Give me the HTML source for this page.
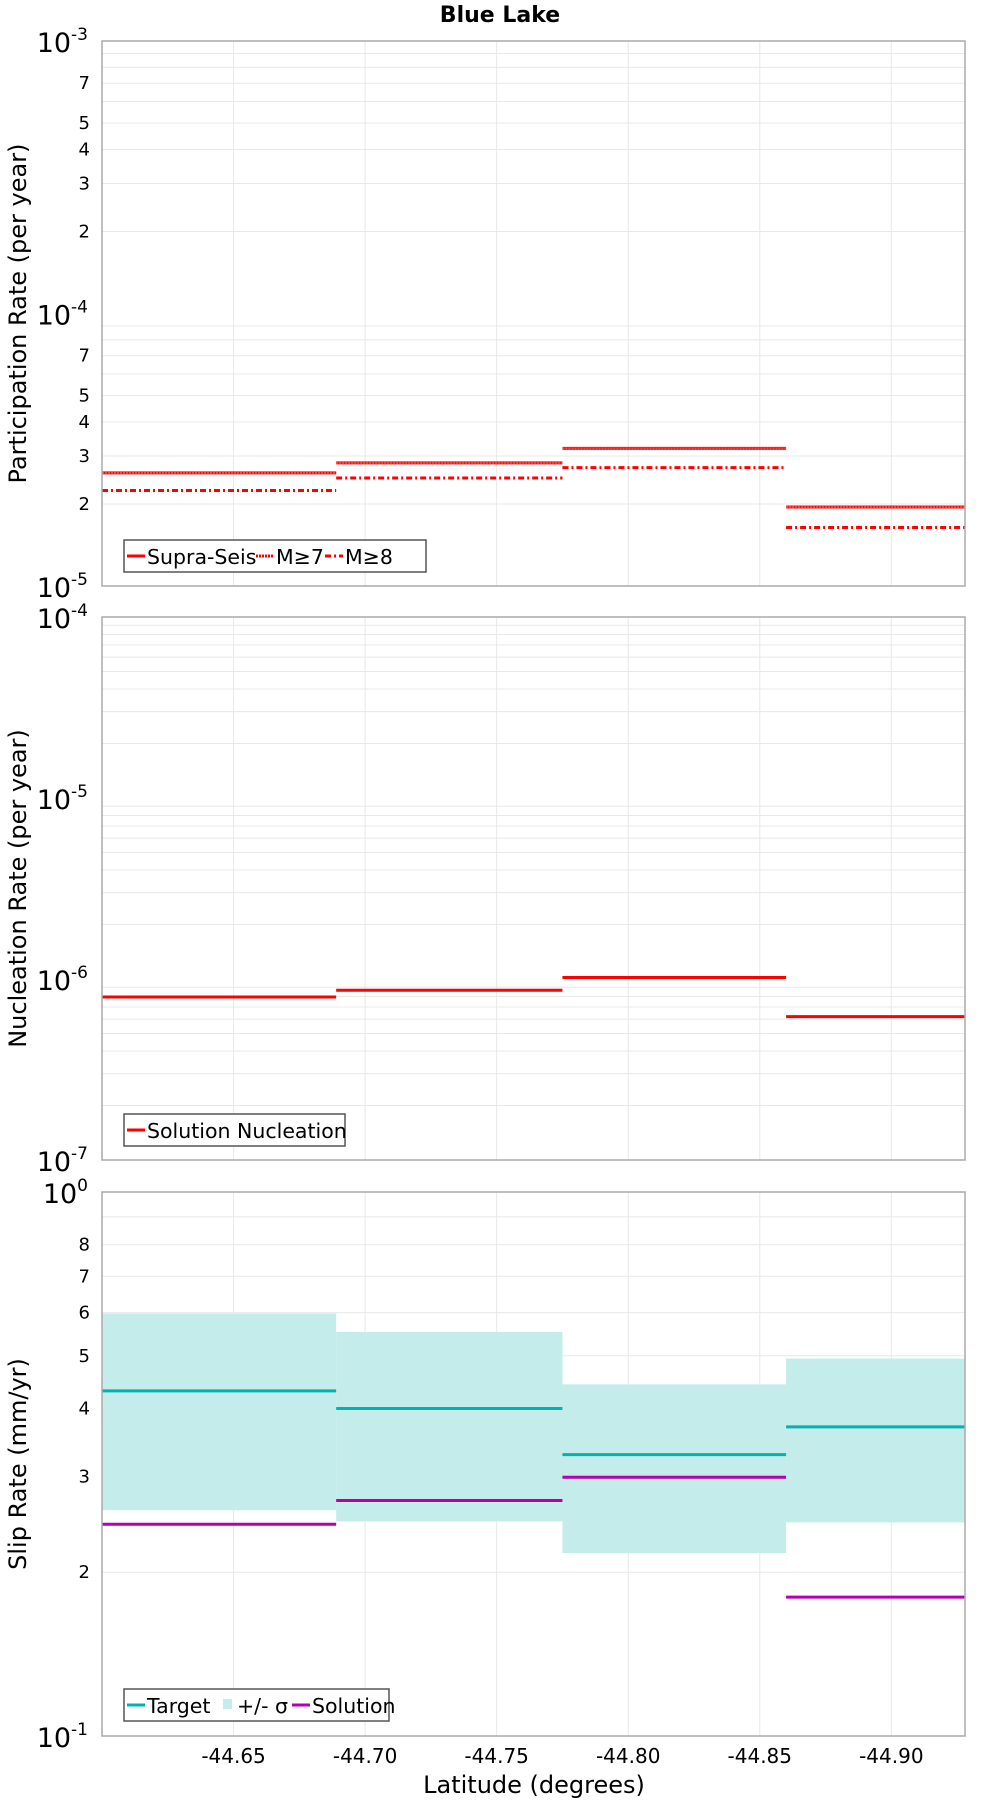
<!DOCTYPE html>
<html><head><meta charset="utf-8"><style>
html,body{margin:0;padding:0;background:#fff}
svg{display:block;font-family:"DejaVu Sans","Liberation Sans",sans-serif}
</style></head><body>
<svg id="chart" width="1000" height="1800" viewBox="0 0 1000 1800" xmlns="http://www.w3.org/2000/svg">
<text x="500" y="22" text-anchor="middle" font-size="22" font-weight="bold">Blue Lake</text>
<g id="layer"></g>
</svg>
<script>
// shared x data
const segEdges = [-44.600, -44.689, -44.775, -44.860, -44.928];
const xTicks = [-44.65, -44.70, -44.75, -44.80, -44.85, -44.90];
const xTickLabels = ["-44.65", "-44.70", "-44.75", "-44.80", "-44.85", "-44.90"];
// panel 1
const supraSeis = [2.6e-5, 2.83e-5, 3.2e-5, 1.95e-5];
const m7 = [2.6e-5, 2.83e-5, 3.2e-5, 1.95e-5];
const m8 = [2.24e-5, 2.49e-5, 2.72e-5, 1.64e-5];
// panel 2
const nucleation = [7.95e-7, 8.67e-7, 1.02e-6, 6.2e-7];
// panel 3
const target = [0.431, 0.400, 0.329, 0.370];
const sigmaHigh = [0.598, 0.553, 0.443, 0.494];
const sigmaLow = [0.260, 0.248, 0.217, 0.247];
const solution = [0.245, 0.271, 0.299, 0.180];

const NS = "http://www.w3.org/2000/svg";
const layer = document.getElementById('layer');
const L = 102, R = 965;
function mk(tag, attrs, parent){const e=document.createElementNS(NS,tag);for(const k in attrs)e.setAttribute(k,attrs[k]);(parent||layer).appendChild(e);return e;}
function xs(v){return L + (v - segEdges[0])/(segEdges[segEdges.length-1]-segEdges[0])*(R-L);}

function panel(top, bot, dmin, dmax, minorLabels, title, name){
  const g = mk('g',{});
  
  
  const ys = v => bot - (Math.log10(v)-dmin)/(dmax-dmin)*(bot-top);
  for(let d=dmin; d<dmax; d++){
    for(let m=2;m<=9;m++){
      const y=ys(m*Math.pow(10,d));
      const gl=mk('line',{x1:L,x2:R,y1:y,y2:y,stroke:'#e8e8e8','stroke-width':1},g);
      
      
      if(minorLabels.includes(m)){
        const t=mk('text',{x:L-12,y:y+6,'text-anchor':'end','font-size':18},g);
        
        
        t.textContent=m;
      }
    }
  }
  xTicks.forEach(v=>{const gl=mk('line',{x1:xs(v),x2:xs(v),y1:top,y2:bot,stroke:'#e8e8e8','stroke-width':1},g);
    
    });
  for(let d=dmin; d<=dmax; d++){
    const y=ys(Math.pow(10,d));
    const t=mk('text',{x:L-14,y:y+11,'text-anchor':'end','font-size':27},g);
    
    
    t.innerHTML='10<tspan dy="-12" font-size="17">'+d+'</tspan>';
  }
  const at=mk('text',{x:0,y:0,'text-anchor':'middle','font-size':24,transform:`translate(26,${(top+bot)/2}) rotate(-90)`},g);
  
  
  at.textContent=title;
  return {g, ys};
}
function frame(top,bot,g){const f=mk('rect',{x:L,y:top,width:R-L,height:bot-top,fill:'none',stroke:'#aaa','stroke-width':1.5},g);
  }
function steps(vals, ys, color, dash, name, g, w){
  vals.forEach((v,i)=>{
    const l=mk('line',{x1:xs(segEdges[i]),x2:xs(segEdges[i+1]),y1:ys(v),y2:ys(v),stroke:color,'stroke-width':w||3},g);
    if(dash) l.setAttribute('stroke-dasharray',dash);
    
    
  });
}
function legend(x,y,w,items,g){
  const lg=mk('g',{},g);
  
  
  mk('rect',{x:x,y:y,width:w,height:32,fill:'#fff',stroke:'#555','stroke-width':1.5},lg);
  let cx=x+3;
  items.forEach(it=>{
    if(it.box){mk('rect',{x:cx+1,y:y+10,width:9,height:10,fill:it.color},lg);cx+=14;}
    else{const l=mk('line',{x1:cx,x2:cx+18,y1:y+16,y2:y+16,stroke:it.color,'stroke-width':3},lg);if(it.dash)l.setAttribute('stroke-dasharray',it.dash);cx+=19;}
    const t=mk('text',{x:cx+1,y:y+24,'font-size':20.5},lg);
    
    
    t.textContent=it.label;
    cx+=it.w;
  });
}
// Panel 1
let p=panel(41,586,-5,-3,[2,3,4,5,7],'Participation Rate (per year)','participation-panel');
steps(supraSeis,p.ys,'#ff0000',null,'supra-seis',p.g,3);
steps(m7,p.ys,'#ff4444','2,1','m7',p.g,2);
steps(m8,p.ys,'#ff0000','6,3,2,3','m8',p.g,3);
frame(41,586,p.g);
legend(124,540,302,[{color:'#f00',label:'Supra-Seis',w:110},{color:'#f00',dash:'2,1',label:'M≥7',w:50},{color:'#f00',dash:'6,3,2,3',label:'M≥8',w:48}],p.g);
// Panel 2
p=panel(617,1160,-7,-4,[],'Nucleation Rate (per year)','nucleation-panel');
steps(nucleation,p.ys,'#ff0000',null,'nucleation',p.g,3);
frame(617,1160,p.g);
legend(124,1114,221,[{color:'#f00',label:'Solution Nucleation',w:200}],p.g);
// Panel 3
p=panel(1192,1736,-1,0,[2,3,4,5,6,7,8],'Slip Rate (mm/yr)','slip-rate-panel');
sigmaHigh.forEach((v,i)=>{
  const r=mk('rect',{x:xs(segEdges[i]),y:p.ys(v),width:xs(segEdges[i+1])-xs(segEdges[i]),height:p.ys(sigmaLow[i])-p.ys(v),fill:'#c3ecea'},p.g);
  
  
});
steps(target,p.ys,'#00b3b3',null,'target',p.g,3);
steps(solution,p.ys,'#b300b3',null,'solution',p.g,3);
frame(1192,1736,p.g);
legend(124,1689,265,[{color:'#00b3b3',label:'Target',w:76},{color:'#c3ecea',box:true,label:'+/- σ',w:56},{color:'#b300b3',label:'Solution',w:90}],p.g);
// x axis
xTicks.forEach((v,i)=>{
  const t=mk('text',{x:xs(v),y:1763,'text-anchor':'middle','font-size':20});
  
  
  t.textContent=xTickLabels[i];
});
const xt=mk('text',{x:534,y:1793,'text-anchor':'middle','font-size':24});


xt.textContent='Latitude (degrees)';
</script>
</body></html>
